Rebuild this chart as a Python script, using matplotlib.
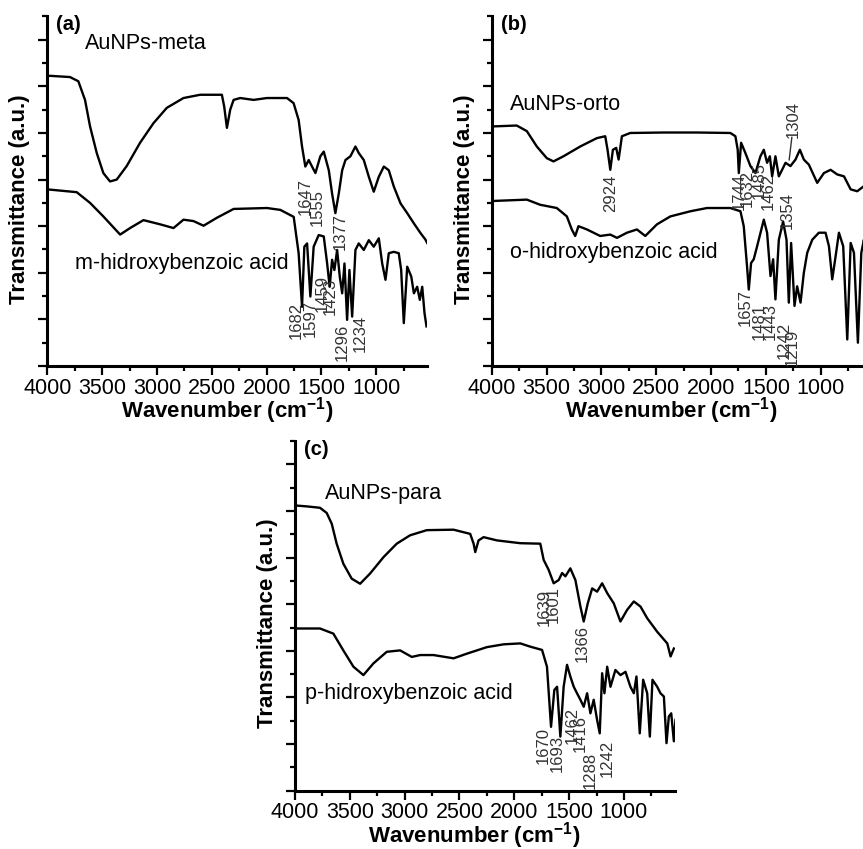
import matplotlib.pyplot as plt
from matplotlib.ticker import MultipleLocator

plt.rcParams['font.family'] = ['Liberation Sans', 'DejaVu Sans']
plt.rcParams['mathtext.default'] = 'regular'

# ---- (a) meta ----
meta_np_wn = [4000, 3793, 3717, 3656, 3610, 3549, 3489, 3428, 3367, 3276, 3154, 3032, 2910, 2758, 2606,
              2408, 2387, 2362, 2332, 2301, 2241, 2119, 1997, 1814, 1754, 1708, 1677, 1647, 1616, 1586,
              1555, 1510, 1479, 1433, 1403, 1373, 1342, 1311, 1281, 1236, 1190, 1160, 1114, 1068, 1023,
              977, 931, 886, 840, 779, 718, 657, 596, 551, 536]
meta_np_t = [6.23, 6.2, 6.11, 5.71, 5.14, 4.57, 4.14, 3.96, 4.0, 4.29, 4.79, 5.21, 5.54, 5.75, 5.82,
             5.82, 5.57, 5.11, 5.5, 5.71, 5.75, 5.71, 5.75, 5.75, 5.64, 5.28, 4.71, 4.28, 4.42, 4.28,
             4.14, 4.5, 4.6, 4.2, 3.7, 3.28, 3.7, 4.2, 4.42, 4.5, 4.71, 4.57, 4.42, 4.06, 3.74,
             4.06, 4.28, 4.2, 3.85, 3.49, 3.28, 3.06, 2.85, 2.71, 2.64]
meta_acid_wn = [4000, 3732, 3610, 3489, 3336, 3245, 3123, 2971, 2849, 2758, 2667, 2575, 2454, 2301, 1997,
                1875, 1753, 1708, 1677, 1656, 1631, 1601, 1571, 1525, 1479, 1448, 1425, 1403, 1382, 1357,
                1333, 1311, 1290, 1266, 1245, 1220, 1190, 1160, 1114, 1068, 1023, 977, 946, 916, 886,
                840, 795, 773, 749, 718, 681, 657, 627, 603, 581, 560, 542]
meta_acid_t = [3.79, 3.73, 3.5, 3.21, 2.82, 2.96, 3.13, 3.04, 2.96, 3.14, 3.11, 3.01, 3.18, 3.37, 3.39,
               3.35, 3.2, 2.42, 1.27, 2.56, 2.63, 1.49, 2.56, 2.81, 2.78, 2.2, 1.7, 2.28, 2.06, 2.49,
               1.92, 1.56, 2.2, 0.99, 2.06, 1.06, 2.49, 2.63, 2.49, 2.7, 2.56, 2.74, 2.2, 1.85, 2.42,
               2.45, 2.42, 2.06, 0.92, 2.13, 1.92, 1.56, 1.7, 1.42, 1.7, 1.13, 0.85]
meta_peaks = [('1647', 1647, 3.63), ('1555', 1540, 3.41), ('1377', 1327, 2.88),
              ('1682', 1729, 0.97), ('1597', 1601, 1.03), ('1459', 1494, 1.56),
              ('1423', 1418, 1.49), ('1296', 1311, 0.5), ('1234', 1150, 0.7)]

# ---- (b) orto ----
orto_np_wn = [4000, 3772, 3680, 3589, 3498, 3437, 3346, 3193, 3041, 2965, 2944, 2919, 2895, 2865, 2843,
              2813, 2737, 2432, 2128, 1824, 1778, 1757, 1747, 1726, 1687, 1641, 1595, 1550, 1519, 1489,
              1464, 1443, 1413, 1382, 1352, 1321, 1276, 1230, 1190, 1154, 1108, 1032, 971, 910, 849,
              788, 727, 667, 606, 535]
orto_np_t = [5.14, 5.16, 5.04, 4.71, 4.46, 4.39, 4.5, 4.71, 4.89, 4.93, 4.64, 4.21, 4.64, 4.68, 4.43,
             4.93, 5.0, 5.01, 5.01, 5.0, 4.93, 4.64, 4.14, 4.79, 4.57, 4.29, 4.14, 4.5, 4.64, 4.36,
             4.5, 4.07, 4.5, 4.07, 4.21, 4.36, 4.29, 4.43, 4.64, 4.43, 4.32, 3.93, 4.14, 4.21, 4.11,
             4.07, 3.79, 3.75, 3.86, 3.9]
orto_acid_wn = [4000, 3680, 3559, 3407, 3315, 3270, 3239, 3209, 3132, 3011, 2919, 2858, 2767, 2676, 2600,
                2493, 2371, 2189, 2037, 1824, 1732, 1702, 1672, 1656, 1635, 1611, 1580, 1519, 1489, 1458,
                1434, 1413, 1382, 1343, 1312, 1291, 1270, 1239, 1215, 1184, 1154, 1123, 1077, 1017, 956,
                925, 895, 864, 834, 795, 758, 727, 697, 661, 630, 606, 580, 560, 535]
orto_acid_t = [3.54, 3.57, 3.46, 3.39, 3.21, 2.93, 2.79, 3.0, 2.93, 2.79, 2.82, 2.75, 2.86, 2.93, 2.79,
               3.04, 3.21, 3.32, 3.39, 3.39, 3.32, 3.0, 2.14, 1.64, 2.21, 2.29, 2.57, 3.14, 2.86, 1.93,
               2.29, 1.43, 2.71, 3.1, 2.71, 1.36, 2.64, 1.29, 1.71, 1.36, 2.0, 2.43, 2.71, 2.86, 2.86,
               2.57, 1.86, 2.36, 2.86, 2.57, 0.57, 2.64, 2.43, 0.5, 2.43, 2.71, 1.5, 2.3, 1.8]
orto_peaks = [('2924', 2919, 3.7), ('1744', 1747, 3.75), ('1632', 1671, 3.82), ('1485', 1565, 3.97),
              ('1462', 1474, 3.75), ('1354', 1306, 3.34), ('1304', 1246, 5.29),
              ('1657', 1687, 1.25), ('1481', 1565, 0.95), ('1443', 1458, 0.95),
              ('1242', 1337, 0.55), ('1219', 1260, 0.4)]

# ---- (c) para ----
para_np_wn = [4000, 3893, 3772, 3711, 3665, 3620, 3559, 3483, 3406, 3315, 3193, 3072, 2950, 2798, 2554,
              2402, 2371, 2356, 2326, 2280, 2158, 1945, 1763, 1732, 1687, 1641, 1595, 1564, 1534, 1489,
              1443, 1397, 1367, 1330, 1290, 1245, 1199, 1153, 1093, 1032, 971, 910, 849, 788, 697,
              605, 575, 545]
para_np_t = [6.12, 6.1, 6.07, 5.96, 5.73, 5.3, 4.87, 4.55, 4.44, 4.66, 5.01, 5.3, 5.48, 5.59, 5.6,
             5.51, 5.3, 5.12, 5.37, 5.44, 5.37, 5.31, 5.3, 4.95, 4.74, 4.45, 4.52, 4.67, 4.6, 4.77,
             4.52, 3.95, 3.63, 4.02, 4.34, 4.27, 4.45, 4.24, 4.02, 3.63, 3.88, 4.06, 3.95, 3.7, 3.41,
             3.16, 2.88, 3.05]
para_acid_wn = [4000, 3772, 3650, 3559, 3467, 3376, 3285, 3163, 3041, 2935, 2858, 2737, 2554, 2432, 2341,
                2250, 2098, 1945, 1854, 1747, 1702, 1665, 1635, 1610, 1580, 1550, 1519, 1489, 1458, 1428,
                1397, 1367, 1336, 1306, 1276, 1245, 1221, 1199, 1178, 1153, 1123, 1078, 1032, 986, 941,
                910, 886, 856, 825, 788, 764, 740, 697, 667, 636, 612, 591, 569, 545, 530]
para_acid_t = [3.48, 3.48, 3.37, 3.01, 2.66, 2.48, 2.73, 2.98, 3.01, 2.87, 2.91, 2.91, 2.84, 2.94, 3.01,
               3.08, 3.14, 3.16, 3.09, 3.02, 2.66, 1.37, 2.16, 2.23, 1.16, 2.23, 2.7, 2.45, 2.23, 2.09,
               1.95, 1.8, 2.09, 1.66, 1.95, 1.52, 1.23, 2.52, 2.09, 2.66, 2.23, 2.59, 2.48, 2.55, 2.23,
               2.09, 2.45, 1.23, 2.38, 2.09, 1.16, 2.38, 2.23, 2.09, 2.02, 1.02, 1.59, 1.66, 1.06, 1.52]
para_peaks = [('1639', 1726, 3.94), ('1601', 1641, 3.99), ('1366', 1382, 3.16),
              ('1670', 1732, 0.96), ('1693', 1604, 0.8), ('1462', 1473, 1.41),
              ('1416', 1397, 1.23), ('1288', 1306, 0.44), ('1242', 1154, 0.69)]

panels = [
    ('(a)', 'AuNPs-meta', 'm-hidroxybenzoic acid', meta_np_wn, meta_np_t, meta_acid_wn, meta_acid_t,
     meta_peaks, (3656, 6.92), (3747, 2.2), [0.0548, 0.5689, 0.4403, 0.4117]),
    ('(b)', 'AuNPs-orto', 'o-hidroxybenzoic acid', orto_np_wn, orto_np_t, orto_acid_wn, orto_acid_t,
     orto_peaks, (3833, 5.61), (3833, 2.43), [0.5698, 0.5689, 0.4403, 0.4117]),
    ('(c)', 'AuNPs-para', 'p-hidroxybenzoic acid', para_np_wn, para_np_t, para_acid_wn, para_acid_t,
     para_peaks, (3726, 6.37), (3909, 2.09), [0.3418, 0.0687, 0.4403, 0.4117]),
]

fig = plt.figure(figsize=(8.63, 8.49), dpi=100)

for tag, np_name, acid_name, x1, y1, x2, y2, peaks, np_pos, acid_pos, rect in panels:
    ax = fig.add_axes(rect)
    ax.plot(x1, y1, color='black', lw=1.7)
    ax.plot(x2, y2, color='black', lw=1.7)
    ax.set_xlim(4000, 535)
    ax.set_ylim(0, 7.5)
    ax.spines['top'].set_visible(False)
    ax.spines['right'].set_visible(False)
    for s in ['left', 'bottom']:
        ax.spines[s].set_linewidth(2.2)
    ax.xaxis.set_major_locator(MultipleLocator(500))
    ax.xaxis.set_minor_locator(MultipleLocator(250))
    ax.yaxis.set_major_locator(MultipleLocator(1))
    ax.yaxis.set_minor_locator(MultipleLocator(0.5))
    ax.tick_params(which='major', length=6.5, width=1.6, labelsize=15.5, pad=2)
    ax.tick_params(which='minor', length=3.5, width=1.6)
    ax.set_yticklabels([])
    ax.set_xticks([4000, 3500, 3000, 2500, 2000, 1500, 1000])
    ax.set_xlabel('Wavenumber (cm$^{-1}$)', fontsize=16, fontweight='bold')
    ax.set_ylabel('Transmittance (a.u.)', fontsize=16, fontweight='bold')
    ax.xaxis.set_label_coords(0.472, -0.083)
    ax.yaxis.set_label_coords(-0.045, 0.478)

    ax.text(3920, 7.32, tag, fontsize=14.5, fontweight='bold', va='center')
    ax.text(np_pos[0], np_pos[1], np_name, fontsize=15.5, va='center')
    ax.text(acid_pos[0], acid_pos[1], acid_name, fontsize=15.5, va='center')
    for label, wn, yy in peaks:
        ax.text(wn, yy, label, rotation=90, fontsize=12, color='#333333',
                ha='center', va='center')
    if tag == '(b)':
        # leader line from the 1304 label down to the curve
        ax.annotate('', xy=(1291, 4.36), xytext=(1260, 4.97),
                    arrowprops=dict(arrowstyle='-', color='#333333', lw=1))

fig.savefig('out.png', dpi=100)
